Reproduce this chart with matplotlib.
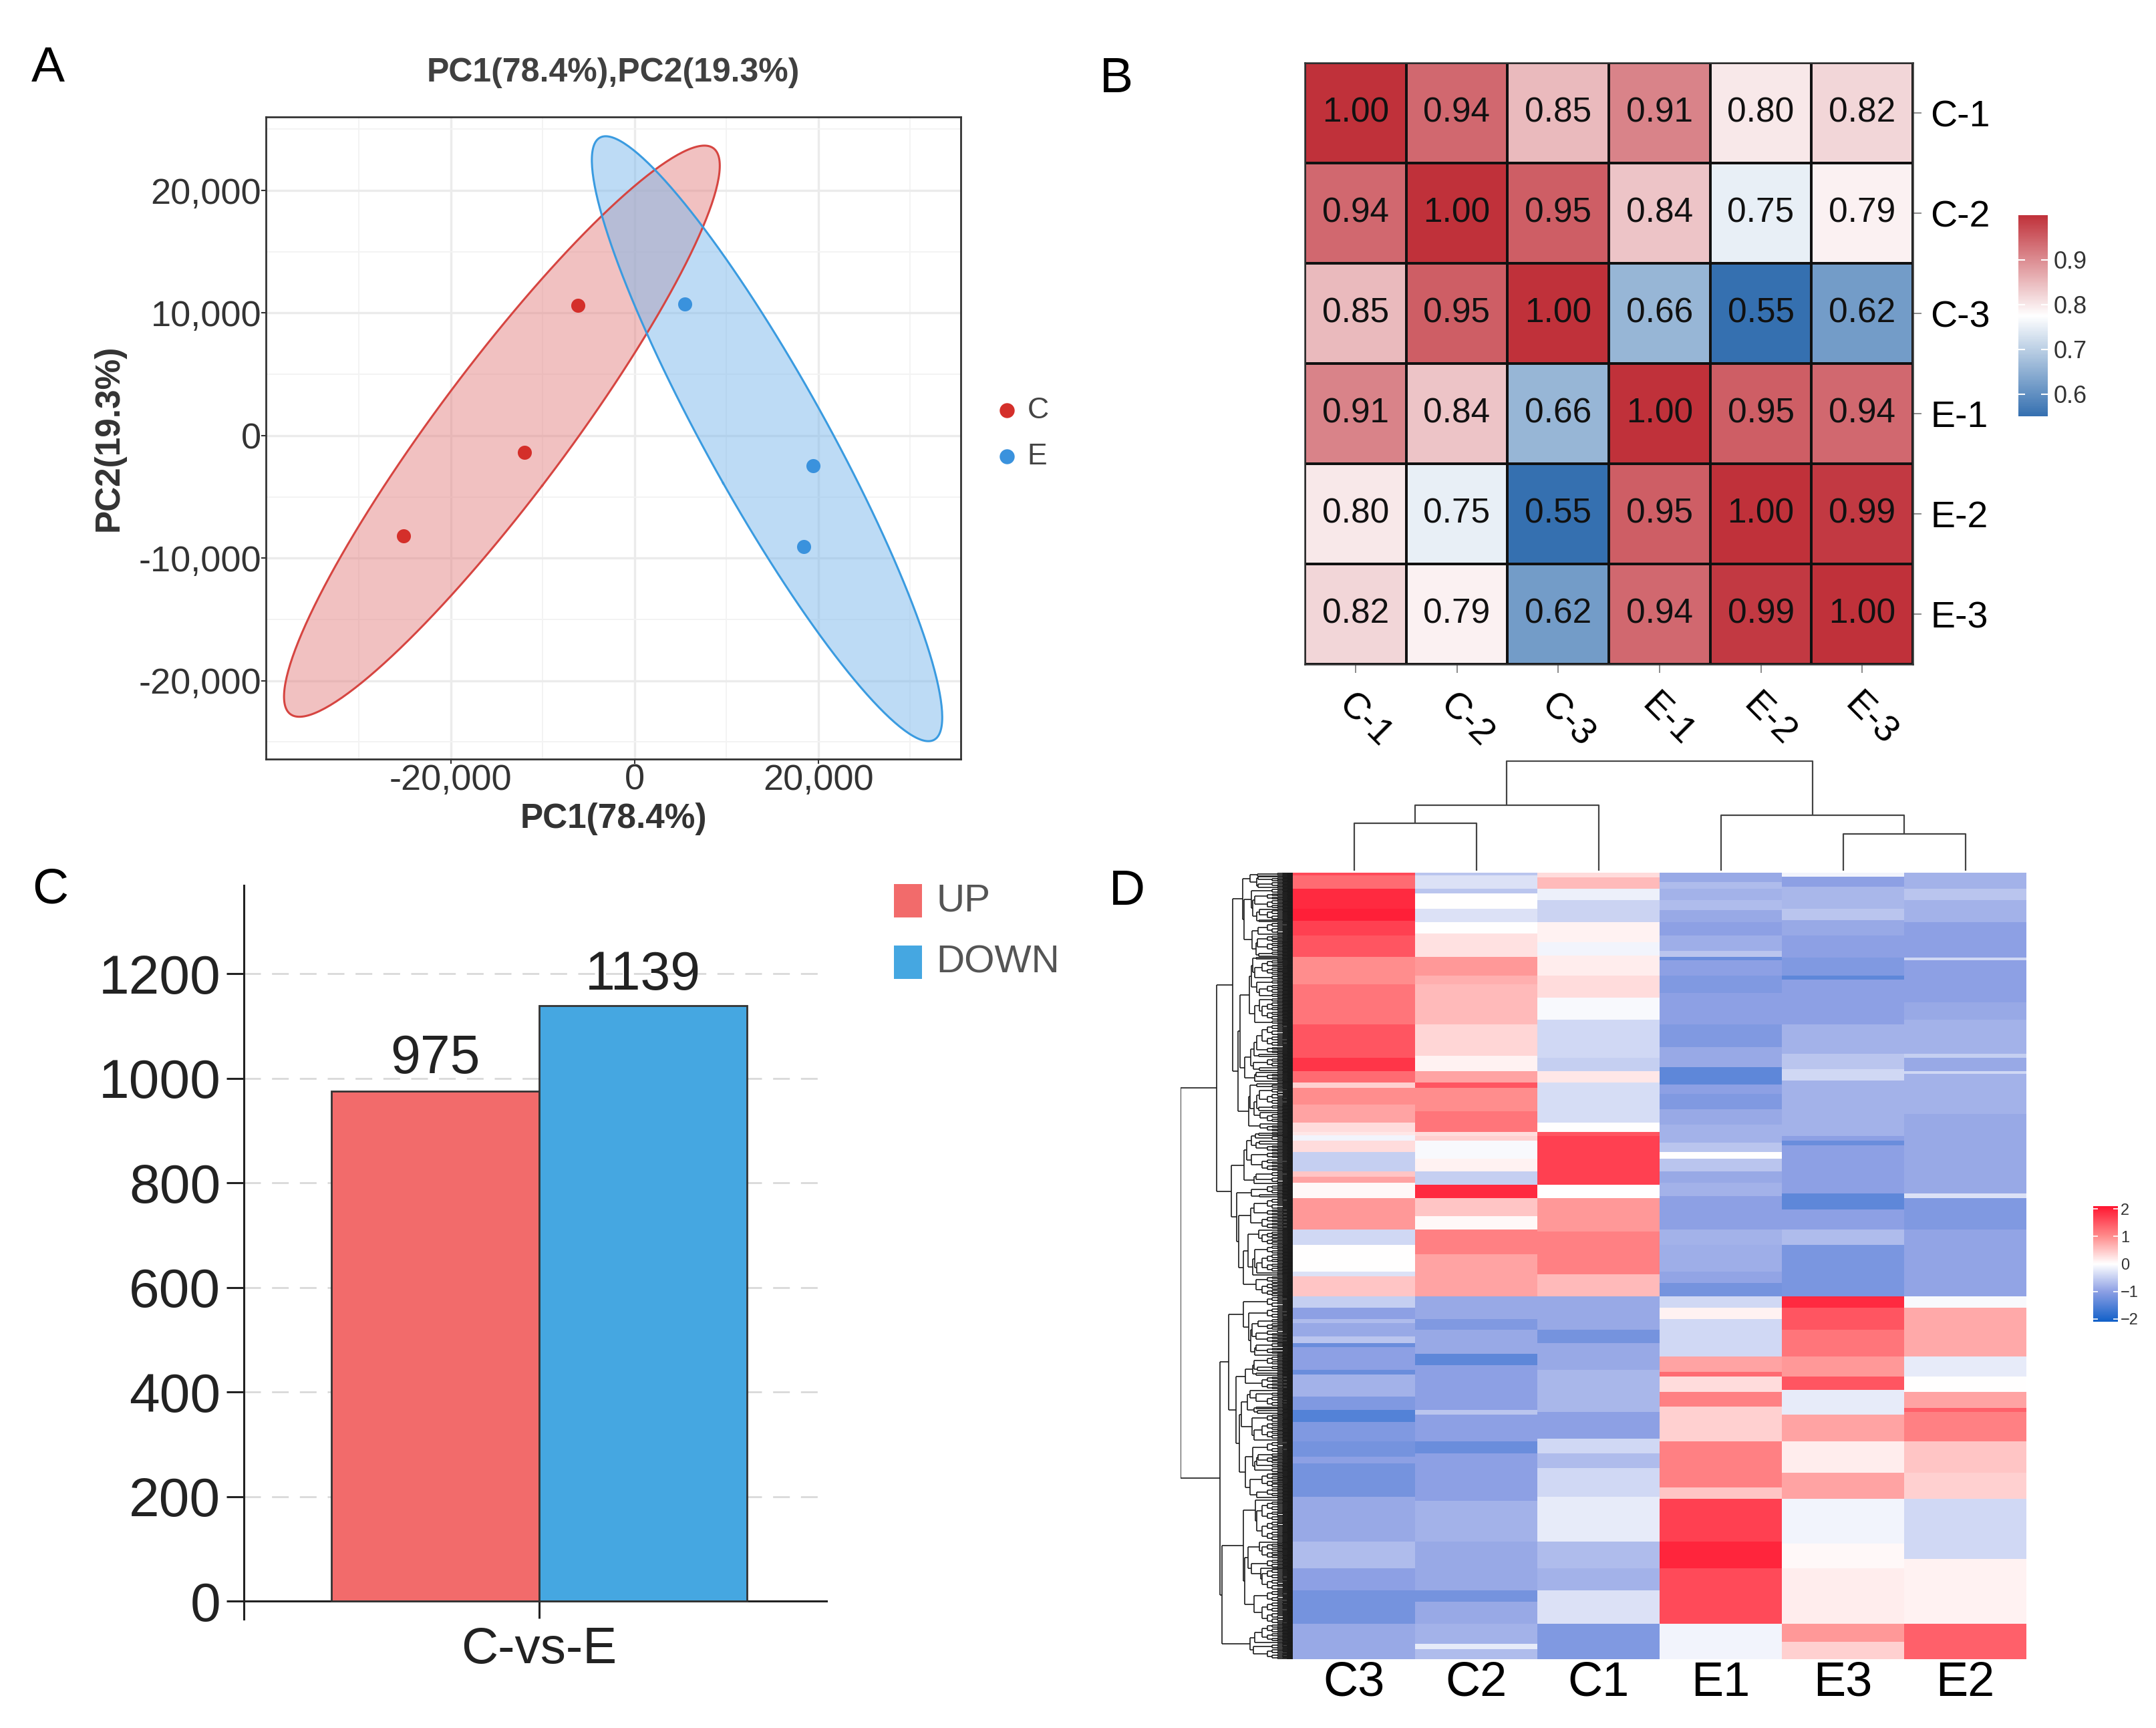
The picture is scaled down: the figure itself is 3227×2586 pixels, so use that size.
import numpy as np
import matplotlib
matplotlib.use('Agg')
import matplotlib.pyplot as plt
from matplotlib.colors import LinearSegmentedColormap, Normalize
from matplotlib.collections import LineCollection
from matplotlib.patches import Rectangle
from matplotlib import font_manager

# ---------------- data ----------------
# A: PCA scores
pc1_C = [-6180, -12000, -25090]
pc2_C = [10630, -1390, -8170]
pc1_E = [5450, 19420, 18400]
pc2_E = [10740, -2440, -9070]

# B: sample correlation
samples_b = ['C-1', 'C-2', 'C-3', 'E-1', 'E-2', 'E-3']
corr = [[1.00, 0.94, 0.85, 0.91, 0.80, 0.82],
        [0.94, 1.00, 0.95, 0.84, 0.75, 0.79],
        [0.85, 0.95, 1.00, 0.66, 0.55, 0.62],
        [0.91, 0.84, 0.66, 1.00, 0.95, 0.94],
        [0.80, 0.75, 0.55, 0.95, 1.00, 0.99],
        [0.82, 0.79, 0.62, 0.94, 0.99, 1.00]]

# C: DEG counts
groups_c = ['C-vs-E']
n_up = [975]
n_down = [1139]

# D: z-score heatmap, each column as (end row, value) runs
cols_d = ['C3', 'C2', 'C1', 'E1', 'E3', 'E2']
n_genes = 2114
z_C3 = [(7, 1.6), (43, 1.3), (97, 1.9), (130, 2.0), (169, 1.7), (226, 1.5), (300, 1.0),
        (408, 1.2), (498, 1.5), (534, 1.8), (564, 1.3), (579, 0.4), (624, 1.0), (672, 0.8),
        (696, 0.3), (705, 0.2), (720, -0.1), (750, 0.3), (803, -0.5), (818, 0.5), (833, 0.8),
        (875, 0.05), (959, 0.9), (1001, -0.4), (1073, 0.0), (1085, -0.3), (1139, 0.5),
        (1169, -0.5), (1199, -1.0), (1211, -0.7), (1246, -0.9), (1264, -0.6), (1276, -1.3),
        (1336, -1.0), (1348, -1.3), (1408, -0.8), (1444, -1.1), (1477, -1.5), (1528, -1.1),
        (1570, -1.2), (1588, -1.0), (1677, -1.2), (1797, -0.9), (1869, -0.7), (1929, -1.0),
        (2019, -1.2), (2114, -0.9)]
z_C2 = [(7, -0.6), (43, -0.3), (55, -0.6), (97, 0.0), (133, -0.3), (163, 0.0), (226, 0.25),
        (276, 0.9), (300, 0.7), (408, 0.6), (492, 0.35), (534, 0.1), (564, 0.8), (579, 1.5),
        (642, 1.0), (696, 1.2), (707, 0.3), (720, 0.4), (768, -0.05), (803, 0.1), (839, -0.5),
        (875, 1.9), (923, 0.5), (959, 0.05), (1025, 1.1), (1139, 0.8), (1199, -0.9),
        (1229, -1.1), (1294, -0.9), (1324, -1.4), (1444, -1.0), (1456, -0.6), (1528, -1.0),
        (1560, -1.3), (1689, -1.0), (1797, -0.8), (1929, -0.9), (1960, -1.2), (2019, -0.9),
        (2073, -0.8), (2087, -0.2), (2114, -0.7)]
z_C1 = [(13, 0.3), (43, 0.6), (73, -0.15), (133, -0.45), (187, 0.1), (223, -0.1), (276, 0.15),
        (336, 0.3), (396, -0.05), (498, -0.4), (534, -0.5), (564, 0.2), (672, -0.35), (696, 0.0),
        (707, 1.5), (839, 1.7), (875, 0.0), (965, 0.9), (1079, 1.1), (1139, 0.6), (1229, -0.9),
        (1264, -1.2), (1336, -0.9), (1450, -0.75), (1522, -1.0), (1560, -0.4), (1600, -0.7),
        (1677, -0.4), (1797, -0.2), (1870, -0.7), (1929, -0.8), (2019, -0.3), (2114, -1.1)]
z_E1 = [(25, -0.9), (43, -0.7), (73, -0.8), (100, -0.7), (133, -0.9), (169, -1.0), (211, -0.85),
        (226, -0.6), (235, -1.3), (276, -1.0), (324, -1.1), (408, -1.0), (468, -1.1),
        (522, -0.9), (570, -1.4), (594, -1.0), (636, -1.1), (678, -0.9), (707, -0.8),
        (726, -0.8), (750, -0.6), (768, 0.0), (803, -0.6), (833, -0.9), (869, -0.8),
        (959, -1.0), (1001, -0.8), (1073, -0.85), (1103, -0.95), (1139, -1.2), (1169, -0.4),
        (1199, 0.1), (1300, -0.4), (1342, 0.8), (1354, 1.3), (1396, 0.3), (1435, 1.1),
        (1528, 0.4), (1653, 1.1), (1683, 0.5), (1797, 1.7), (1869, 1.95), (2019, 1.6),
        (2114, -0.1)]
z_E3 = [(10, -0.1), (37, -1.0), (97, -0.75), (127, -0.6), (169, -0.9), (229, -1.0),
        (276, -1.1), (288, -1.4), (408, -1.0), (486, -0.8), (528, -0.6), (558, -0.4),
        (707, -0.8), (720, -1.0), (732, -1.3), (863, -1.0), (905, -1.4), (959, -1.0),
        (1001, -0.7), (1139, -1.15), (1169, 1.9), (1229, 1.5), (1300, 1.2), (1354, 0.9),
        (1390, 1.5), (1456, -0.2), (1528, 0.8), (1612, 0.15), (1683, 0.8), (1803, -0.1),
        (1869, 0.05), (2019, 0.15), (2067, 0.9), (2114, 0.4)]
z_E2 = [(43, -0.8), (73, -0.6), (133, -0.8), (229, -1.0), (235, -0.4), (348, -1.0),
        (396, -0.9), (486, -0.8), (498, -0.5), (534, -0.9), (540, -0.4), (648, -0.8),
        (707, -0.9), (863, -0.9), (875, -0.3), (959, -1.1), (1139, -0.95), (1169, -0.05),
        (1300, 0.75), (1354, -0.2), (1396, 0.0), (1438, 0.8), (1450, 1.4), (1528, 1.1),
        (1612, 0.5), (1683, 0.4), (1845, -0.4), (2019, 0.1), (2114, 1.4)]
# column tree (leaf order C3 C2 C1 E1 E3 E2): heights of the merges
col_h_C3C2, col_h_C, col_h_E3E2, col_h_E, col_h_root = 75, 103, 58, 88, 173

# ---------------- fonts / figure ----------------
names = {f.name for f in font_manager.fontManager.ttflist}
narrow = ['Liberation Sans Narrow', 'Liberation Sans'] if 'Liberation Sans Narrow' in names \
    else ['Liberation Sans', 'DejaVu Sans']
plt.rcParams['font.family'] = ['Liberation Sans', 'DejaVu Sans']

W, H = 3227, 2586
fig = plt.figure(figsize=(W / 100, H / 100), dpi=100)


def box(x0, y0, x1, y1):
    # pixel box of the reference -> figure fraction rect
    return [x0 / W, 1 - y1 / H, (x1 - x0) / W, (y1 - y0) / H]


for lab, x, y in [('A', 47, 68), ('B', 1646, 84), ('C', 48, 1298), ('D', 1660, 1300)]:
    fig.text(x / W, 1 - y / H, lab, fontsize=54, va='top', ha='left')

# ---------------- A: PCA ----------------
axA = fig.add_axes(box(398, 175, 1438, 1136))
red_pt, blue_pt = '#D42F2A', '#3A92DD'
r95 = np.sqrt(5.991)
t = np.linspace(0, 2 * np.pi, 300)
for xs, ys, fc, ec in [(pc1_C, pc2_C, '#E48585', '#D64541'), (pc1_E, pc2_E, '#7DB9EC', '#3A9BE0')]:
    pts = np.column_stack([xs, ys]).astype(float)
    mu = pts.mean(axis=0)
    vals, vecs = np.linalg.eigh(np.cov(pts.T))
    circ = np.vstack([np.cos(t), np.sin(t)]) * (r95 * np.sqrt(vals))[:, None]
    ell = (vecs @ circ).T + mu
    axA.fill(ell[:, 0], ell[:, 1], color=fc, alpha=0.5, lw=0, zorder=2)
    axA.plot(ell[:, 0], ell[:, 1], color=ec, lw=2.2, zorder=3)
axA.scatter(pc1_C, pc2_C, s=230, color=red_pt, zorder=4, lw=0)
axA.scatter(pc1_E, pc2_E, s=230, color=blue_pt, zorder=4, lw=0)
axA.set_xlim(-40100, 35500)
axA.set_ylim(-26400, 26000)
axA.set_xticks([-20000, 0, 20000])
axA.set_xticks([-30000, -10000, 10000, 30000], minor=True)
axA.set_yticks([-20000, -10000, 0, 10000, 20000])
axA.set_yticks([-25000, -15000, -5000, 5000, 15000, 25000], minor=True)
axA.set_xticklabels(['-20,000', '0', '20,000'])
axA.set_yticklabels(['-20,000', '-10,000', '0', '10,000', '20,000'])
axA.grid(which='major', color='#EBEBEB', lw=2.4, zorder=0)
axA.grid(which='minor', color='#F3F3F3', lw=1.4, zorder=0)
axA.set_axisbelow(True)
axA.tick_params(which='major', labelsize=39, labelcolor='#333333', color='#333333',
                length=5, width=1.5, pad=0)
axA.tick_params(which='minor', length=0)
for s in axA.spines.values():
    s.set_color('#333333')
    s.set_linewidth(2)
axA.set_xlabel('PC1(78.4%)', fontsize=37, fontweight='bold', color='#333333', labelpad=6)
axA.set_ylabel('PC2(19.3%)', fontsize=37, fontweight='bold', color='#333333', labelpad=14)
axA.set_title('PC1(78.4%),PC2(19.3%)', fontsize=36, fontweight='bold', color='#404040', pad=38)
for yy, lab, c in [(0.543, 'C', red_pt), (0.471, 'E', blue_pt)]:
    axA.scatter([1.066], [yy], s=260, color=c, transform=axA.transAxes, clip_on=False, lw=0)
    axA.text(1.096, yy, lab, transform=axA.transAxes, fontsize=32, color='#444444',
             va='center', ha='left')

# ---------------- B: correlation heatmap ----------------
axB = fig.add_axes(box(1953, 94, 2863, 994))
cm_b = LinearSegmentedColormap.from_list('rb', ['#3570B0', '#FFFFFF', '#C0313A'])
norm_b = Normalize(0.55, 1.0)
cb = np.array(corr)
mesh = axB.pcolormesh(np.arange(7) - 0.5, np.arange(7) - 0.5, cb, cmap=cm_b, norm=norm_b,
                      edgecolors='#111111', linewidth=1.6)
axB.set_xlim(-0.5, 5.5)
axB.set_ylim(5.5, -0.5)
for i in range(6):
    for j in range(6):
        axB.text(j, i, '%.2f' % cb[i, j], ha='center', va='center', fontsize=37, color='#111111')
axB.yaxis.tick_right()
axB.set_yticks(range(6))
axB.set_yticklabels(samples_b)
axB.set_xticks(range(6))
axB.set_xticklabels(samples_b)
axB.tick_params(axis='y', labelsize=40, length=9, width=1.2, color='#777777', pad=10)
axB.tick_params(axis='x', labelsize=40, length=9, width=1.2, color='#777777', pad=16)
plt.setp(axB.get_xticklabels(), rotation=-45, ha='left', va='top', rotation_mode='anchor')
for s in axB.spines.values():
    s.set_linewidth(1.8)
    s.set_color('#333333')

caxB = fig.add_axes(box(3021, 322, 3065, 623))
cbar_b = fig.colorbar(mesh, cax=caxB, ticks=[0.6, 0.7, 0.8, 0.9])
cbar_b.outline.set_visible(False)
caxB.tick_params(labelsize=26, labelcolor='#333333', color='white', direction='in',
                 length=7, width=1.5, left=True, right=True, pad=6)

# ---------------- C: DEG bar chart ----------------
axC = fig.add_axes(box(365, 1325, 1237, 2423))
up_col, down_col = '#F26B6B', '#45A7E1'
xc = np.arange(len(groups_c))
axC.bar(xc - 0.5, n_up, width=1, color=up_col, edgecolor='#333333', lw=2, zorder=3)
axC.bar(xc + 0.5, n_down, width=1, color=down_col, edgecolor='#333333', lw=2, zorder=3)
for x, v in zip(xc - 0.5, n_up):
    axC.text(x, v + 35, str(v), ha='center', va='baseline', fontsize=58, family=narrow, color='#222222')
for x, v in zip(xc + 0.5, n_down):
    axC.text(x, v + 30, str(v), ha='center', va='baseline', fontsize=58, family=narrow, color='#222222')
axC.set_xlim(-1.42, 1.383)
axC.set_ylim(-34.5, 1369)
yt = np.arange(0, 1201, 200)
axC.set_yticks(yt)
axC.set_yticklabels([str(v) for v in yt], family=narrow)
for v in yt[1:]:
    axC.axhline(v, color='#D9D9D9', lw=2, ls=(0, (9, 6)), zorder=1)
axC.set_xticks(xc)
axC.set_xticklabels(groups_c, family=narrow)
axC.spines['top'].set_visible(False)
axC.spines['right'].set_visible(False)
axC.spines['bottom'].set_position(('data', 0))
for s in ['left', 'bottom']:
    axC.spines[s].set_linewidth(2.2)
    axC.spines[s].set_color('#222222')
axC.tick_params(axis='y', labelsize=59, length=19, width=2.2, color='#222222', pad=6,
                labelcolor='#222222')
axC.tick_params(axis='x', labelsize=55, length=19, width=2.2, color='#222222', pad=8,
                labelcolor='#222222')
for y0, lab, c in [(1323, 'UP', up_col), (1415, 'DOWN', down_col)]:
    fig.add_artist(Rectangle((1338 / W, 1 - (y0 + 50) / H), 42 / W, 50 / H,
                             transform=fig.transFigure, color=c, lw=0))
    fig.text(1401 / W, 1 - (y0 + 25) / H, lab, fontsize=42, family=narrow, color='#555555',
             va='center', ha='left')

# ---------------- D: clustered heatmap ----------------
runs = [z_C3, z_C2, z_C1, z_E1, z_E3, z_E2]
mat = np.zeros((n_genes, len(runs)))
for j, col in enumerate(runs):
    start = 0
    for end, v in col:
        mat[start:end, j] = v
        start = end

cm_d = LinearSegmentedColormap.from_list(
    'bwr_d', [(0, '#1160C8'), (0.26, '#8C9FE4'), (0.5, '#FFFFFF'), (0.74, '#FF8C8C'), (1, '#FF1530')])
axD = fig.add_axes(box(1935, 1306, 3033, 2483))
im = axD.imshow(mat, aspect='auto', cmap=cm_d, vmin=-2.1, vmax=2.1, interpolation='nearest',
                extent=(-0.5, 5.5, n_genes, 0))
axD.set_yticks([])
axD.set_xticks(range(6))
axD.set_xticklabels(cols_d)
axD.tick_params(axis='x', length=0, labelsize=52, pad=2)
for s in axD.spines.values():
    s.set_visible(False)

# column dendrogram
axT = fig.add_axes(box(1935, 1138, 3033, 1303))
lc = '#444444'
def u(ax, x1, h1, x2, h2, h):
    ax.plot([x1, x1, x2, x2], [h1, h, h, h2], color=lc, lw=1.6, solid_capstyle='butt')
u(axT, 0, 0, 1, 0, col_h_C3C2)
u(axT, 0.5, col_h_C3C2, 2, 0, col_h_C)
u(axT, 4, 0, 5, 0, col_h_E3E2)
u(axT, 3, 0, 4.5, col_h_E3E2, col_h_E)
u(axT, 1.25, col_h_C, 3.75, col_h_E, col_h_root)
axT.set_xlim(-0.5, 5.5)
axT.set_ylim(0, col_h_root + 1)
axT.axis('off')

# row dendrogram: fine comb inside each run, then order-preserving Ward merges
bounds = sorted({0} | {e for col in runs for e, _ in col})
lines = []
step = 2.0


def comb(s, e):
    if e - s == 1:
        return 0.0, s + 0.5
    m = (s + e) // 2
    h1, y1 = comb(s, m)
    h2, y2 = comb(m, e)
    h = max(h1, h2) + step
    lines.extend([[(h1, y1), (h, y1)], [(h, y1), (h, y2)], [(h2, y2), (h, y2)]])
    return h, (y1 + y2) / 2


nodes = []
for s, e in zip(bounds[:-1], bounds[1:]):
    h, y = comb(s, e)
    nodes.append([h, y, e - s, mat[s].copy()])
c0, k = 11.0, 3.0
while len(nodes) > 1:
    best, bi = None, 0
    for i in range(len(nodes) - 1):
        a, b = nodes[i], nodes[i + 1]
        d = np.sqrt(2 * a[2] * b[2] / (a[2] + b[2])) * np.linalg.norm(a[3] - b[3])
        if best is None or d < best:
            best, bi = d, i
    a, b = nodes[bi], nodes[bi + 1]
    h = max(a[0] + 0.6, b[0] + 0.6, c0 + k * np.sqrt(best))
    lines.extend([[(a[0], a[1]), (h, a[1])], [(h, a[1]), (h, b[1])], [(b[0], b[1]), (h, b[1])]])
    n = a[2] + b[2]
    nodes[bi:bi + 2] = [[h, (a[1] + b[1]) / 2, n, (a[3] * a[2] + b[3] * b[2]) / n]]
root_h = nodes[0][0]
axL = fig.add_axes(box(1767, 1306, 1935, 2483))
axL.add_collection(LineCollection(lines, colors='#1A1A1A', linewidths=1.2))
axL.set_xlim(root_h, 0)
axL.set_ylim(n_genes, 0)
axL.axis('off')

caxD = fig.add_axes(box(3133, 1805, 3170, 1978))
cbar_d = fig.colorbar(im, cax=caxD, ticks=[-2, -1, 0, 1, 2])
cbar_d.outline.set_visible(False)
caxD.tick_params(labelsize=17, labelcolor='#333333', color='white', direction='in',
                 length=5, width=1.2, left=True, right=True, pad=3)

fig.savefig('out.png', dpi=100, facecolor='white')
